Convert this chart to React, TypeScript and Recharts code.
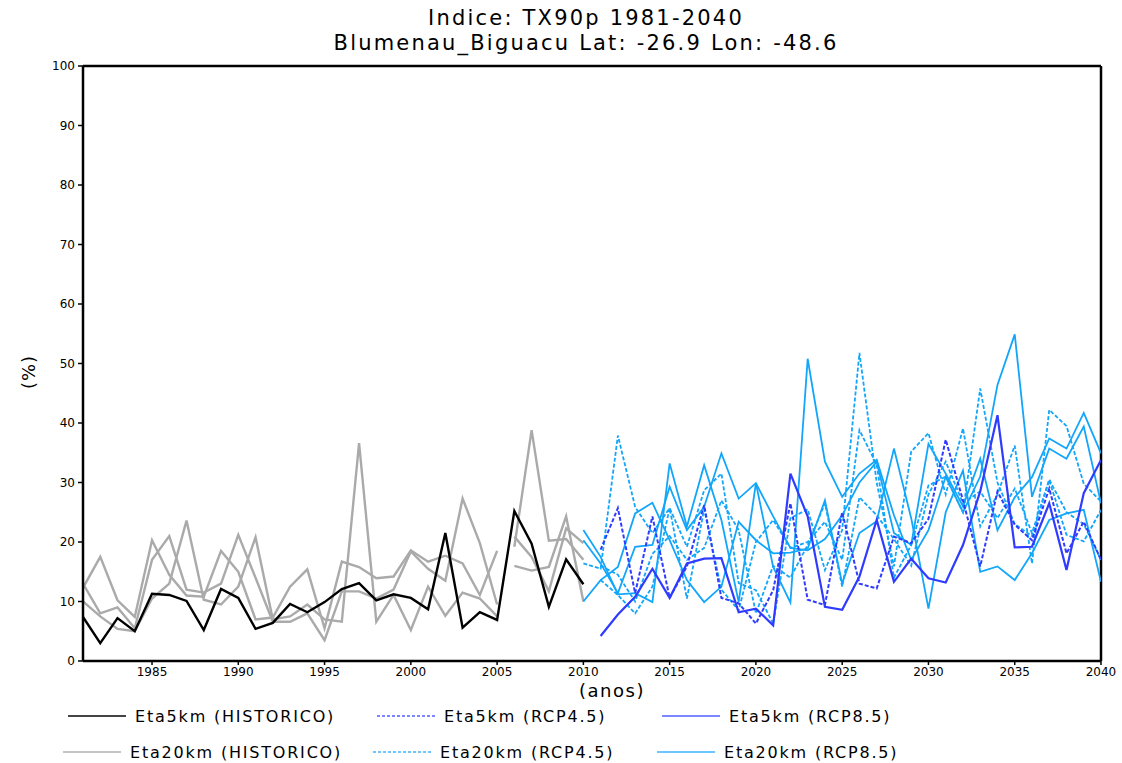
import React from "react";
import { LineChart, Line, XAxis, YAxis, ReferenceLine } from "recharts";

const YEARS = [
  1981, 1982, 1983, 1984, 1985, 1986, 1987, 1988, 1989, 1990,
  1991, 1992, 1993, 1994, 1995, 1996, 1997, 1998, 1999, 2000,
  2001, 2002, 2003, 2004, 2005, 2006, 2007, 2008, 2009, 2010,
  2011, 2012, 2013, 2014, 2015, 2016, 2017, 2018, 2019, 2020,
  2021, 2022, 2023, 2024, 2025, 2026, 2027, 2028, 2029, 2030,
  2031, 2032, 2033, 2034, 2035, 2036, 2037, 2038, 2039, 2040,
];
const X_TICKS = [1985, 1990, 1995, 2000, 2005, 2010, 2015, 2020, 2025, 2030, 2035, 2040];
const Y_TICKS = [0, 10, 20, 30, 40, 50, 60, 70, 80, 90, 100];

// Eta5km historical 1981-2010
const ETA5_HIST = [7.4, 3.0, 7.2, 5.0, 11.3, 11.1, 10.1, 5.2, 12.1, 10.6, 5.4, 6.4, 9.6, 8.2, 9.9, 12.1, 13.1, 10.2, 11.2, 10.6, 8.7, 21.5, 5.6, 8.2, 6.9, 25.2, 19.7, 9.1, 17.1, 12.9];
// Eta20km historical members 1981-2005
const ETA20_HIST_A = [12.3, 17.5, 10.2, 7.4, 20.3, 14.5, 11.0, 10.8, 18.5, 15.0, 7.0, 7.3, 12.5, 15.4, 5.5, 16.7, 15.8, 13.9, 14.2, 18.6, 16.7, 17.7, 16.4, 11.1, 18.5];
const ETA20_HIST_B = [13.0, 8.0, 9.0, 5.5, 17.0, 21.0, 12.0, 11.5, 13.0, 21.2, 14.0, 6.6, 6.6, 8.0, 3.5, 11.7, 11.7, 10.5, 12.0, 18.4, 15.5, 13.5, 27.3, 19.8, 9.5];
const ETA20_HIST_C = [10.0, 7.5, 5.4, 5.0, 10.5, 13.0, 23.6, 10.3, 9.5, 12.5, 20.8, 7.0, 7.5, 9.5, 7.0, 6.6, 36.6, 6.6, 11.1, 5.2, 12.5, 7.6, 11.5, 10.5, 7.5];
// Eta20km historical members 2006-2010
const ETA20_HIST_D = [16.0, 15.2, 15.8, 24.3, 10.0];
const ETA20_HIST_E = [19.2, 38.8, 20.2, 20.5, 17.0];
const ETA20_HIST_F = [20.9, 17.5, 11.7, 22.3, 19.8];
// Eta5km projections 2011-2040
const ETA5_RCP45 = [18.7, 25.7, 11.4, 24.3, 10.6, 15.9, 26.2, 10.6, 9.7, 6.3, 11.9, 26.5, 10.3, 9.4, 25.0, 13.0, 12.2, 20.9, 19.8, 23.9, 37.2, 27.0, 15.9, 28.5, 22.9, 20.3, 29.0, 18.1, 23.4, 17.0];
const ETA5_RCP85 = [4.2, 7.8, 10.8, 15.5, 10.6, 16.4, 17.2, 17.3, 8.2, 8.8, 6.0, 31.5, 24.3, 9.1, 8.6, 14.2, 23.7, 13.3, 17.2, 13.9, 13.2, 19.5, 28.5, 41.3, 19.1, 19.2, 26.5, 15.3, 28.2, 33.8];
// Eta20km RCP4.5 members
const ETA20_RCP45_A = [16.4, 15.5, 37.9, 25.9, 21.5, 25.7, 19.2, 28.7, 31.5, 13.1, 11.9, 6.3, 24.0, 25.5, 15.3, 22.0, 51.8, 30.0, 15.9, 35.2, 38.3, 28.0, 39.1, 22.6, 28.0, 36.2, 16.4, 42.2, 39.5, 29.8, 26.8]; // 2010-2040
const ETA20_RCP45_B = [13.6, 11.1, 8.0, 12.5, 25.7, 10.5, 25.5, 12.0, 8.5, 20.0, 23.7, 19.0, 20.0, 23.4, 17.0, 38.8, 33.0, 14.0, 19.5, 29.5, 31.0, 25.0, 45.8, 30.0, 23.0, 21.0, 30.4, 21.2, 20.1, 25.4]; // 2011-2040
const ETA20_RCP45_C = [16.0, 14.5, 10.0, 18.0, 21.0, 17.0, 19.0, 27.0, 22.0, 8.0, 16.0, 14.0, 19.5, 26.5, 12.5, 27.5, 24.5, 20.5, 16.0, 28.0, 33.5, 26.5, 28.5, 24.0, 29.0, 21.5, 30.5, 25.0, 23.0, 17.0]; // 2011-2040
// Eta20km RCP8.5 members 2010-2040
const ETA20_RCP85_A = [22.0, 17.5, 11.2, 11.4, 9.9, 33.2, 22.6, 32.9, 23.7, 9.9, 29.9, 15.8, 9.8, 50.8, 33.5, 27.6, 31.5, 33.8, 24.5, 17.0, 22.0, 31.0, 25.0, 31.0, 46.4, 54.9, 27.6, 35.7, 34.0, 39.4, 26.5];
const ETA20_RCP85_B = [10.0, 13.6, 15.8, 24.8, 26.6, 20.3, 13.6, 9.9, 12.5, 23.4, 20.3, 18.1, 18.2, 18.9, 27.0, 13.0, 21.5, 23.5, 35.7, 24.0, 8.8, 25.0, 32.0, 15.0, 15.9, 13.6, 18.1, 23.7, 24.8, 25.4, 13.3];
const ETA20_RCP85_C = [20.3, 16.4, 11.4, 19.2, 19.5, 29.3, 22.0, 25.9, 34.9, 27.3, 29.9, 24.3, 19.0, 18.6, 20.5, 24.5, 30.0, 33.5, 21.5, 19.5, 36.5, 31.5, 26.0, 34.0, 22.0, 27.5, 30.9, 37.4, 35.7, 41.7, 34.9];

const BLACK = "#000000";
const GRAY = "#aaaaaa";
const DARK_BLUE = "#2f3bff";
const LIGHT_BLUE = "#12a6fb";

const at = (arr: number[], start: number, year: number) => {
  const i = year - start;
  return i >= 0 && i < arr.length ? arr[i] : null;
};

const data = YEARS.map((year) => ({
  year,
  e5h: at(ETA5_HIST, 1981, year),
  ha: at(ETA20_HIST_A, 1981, year),
  hb: at(ETA20_HIST_B, 1981, year),
  hc: at(ETA20_HIST_C, 1981, year),
  hd: at(ETA20_HIST_D, 2006, year),
  he: at(ETA20_HIST_E, 2006, year),
  hf: at(ETA20_HIST_F, 2006, year),
  e545: at(ETA5_RCP45, 2011, year),
  e585: at(ETA5_RCP85, 2011, year),
  d1: at(ETA20_RCP45_A, 2010, year),
  d2: at(ETA20_RCP45_B, 2011, year),
  d3: at(ETA20_RCP45_C, 2011, year),
  s1: at(ETA20_RCP85_A, 2010, year),
  s2: at(ETA20_RCP85_B, 2010, year),
  s3: at(ETA20_RCP85_C, 2010, year),
}));

const FONT = "'DejaVu Sans', 'Liberation Sans', sans-serif";

const LEGEND = [
  { label: "Eta5km (HISTORICO)", color: "#444444", dash: undefined as string | undefined, x: 68, y: 716 },
  { label: "Eta5km (RCP4.5)", color: "#7d86ff", dash: "3 2", x: 377, y: 716 },
  { label: "Eta5km (RCP8.5)", color: "#7d86ff", dash: undefined, x: 662, y: 716 },
  { label: "Eta20km (HISTORICO)", color: "#c4c4c4", dash: undefined, x: 63, y: 752 },
  { label: "Eta20km (RCP4.5)", color: "#6cc6ff", dash: "3 2", x: 373, y: 752 },
  { label: "Eta20km (RCP8.5)", color: "#6cc6ff", dash: undefined, x: 657, y: 752 },
];

const lineProps = {
  type: "linear" as const,
  dot: false,
  activeDot: false,
  isAnimationActive: false,
  connectNulls: false,
};

export default function App() {
  return (
    <div style={{ position: "absolute", left: 0, top: 0, width: 1122, height: 763, background: "#fff", fontFamily: FONT }}>
      <div style={{ position: "absolute", left: 0, width: 1172, top: 6, textAlign: "center", fontSize: 21, letterSpacing: 2.2, lineHeight: "25px", color: "#000" }}>
        Indice: TX90p 1981-2040
      </div>
      <div style={{ position: "absolute", left: 0, width: 1172, top: 31, textAlign: "center", fontSize: 21, letterSpacing: 2.2, lineHeight: "25px", color: "#000" }}>
        Blumenau_Biguacu Lat: -26.9 Lon: -48.6
      </div>
      <LineChart width={1122} height={763} data={data} margin={{ top: 66, right: 21, bottom: 72, left: 43 }}>
        <XAxis
          dataKey="year"
          type="number"
          domain={[1981, 2040]}
          ticks={X_TICKS}
          allowDataOverflow
          tick={{ fill: "#000", fontSize: 12, fontFamily: FONT }}
          tickLine={{ stroke: "#000", strokeWidth: 1.5 }}
          tickSize={4}
          tickMargin={2}
          axisLine={{ stroke: "#000", strokeWidth: 2.5 }}
          height={30}
        />
        <YAxis
          domain={[0, 100]}
          ticks={Y_TICKS}
          allowDataOverflow
          tick={{ fill: "#000", fontSize: 12, fontFamily: FONT }}
          tickLine={{ stroke: "#000", strokeWidth: 1.5 }}
          tickSize={5}
          tickMargin={3}
          axisLine={{ stroke: "#000", strokeWidth: 2.5 }}
          width={40}
        />
        <ReferenceLine y={100} stroke="#000" strokeWidth={2.5} ifOverflow="extendDomain" />
        <ReferenceLine x={2040} stroke="#000" strokeWidth={2.5} ifOverflow="extendDomain" />

        <Line {...lineProps} dataKey="ha" stroke={GRAY} strokeWidth={2.4} />
        <Line {...lineProps} dataKey="hb" stroke={GRAY} strokeWidth={2.4} />
        <Line {...lineProps} dataKey="hc" stroke={GRAY} strokeWidth={2.4} />
        <Line {...lineProps} dataKey="hd" stroke={GRAY} strokeWidth={2.4} />
        <Line {...lineProps} dataKey="he" stroke={GRAY} strokeWidth={2.4} />
        <Line {...lineProps} dataKey="hf" stroke={GRAY} strokeWidth={2.4} />
        <Line {...lineProps} dataKey="e5h" stroke={BLACK} strokeWidth={2.4} />

        <Line {...lineProps} dataKey="d1" stroke={LIGHT_BLUE} strokeWidth={1.8} strokeDasharray="4 2" />
        <Line {...lineProps} dataKey="d2" stroke={LIGHT_BLUE} strokeWidth={1.8} strokeDasharray="4 2" />
        <Line {...lineProps} dataKey="d3" stroke={LIGHT_BLUE} strokeWidth={1.8} strokeDasharray="4 2" />
        <Line {...lineProps} dataKey="s1" stroke={LIGHT_BLUE} strokeWidth={1.8} />
        <Line {...lineProps} dataKey="s2" stroke={LIGHT_BLUE} strokeWidth={1.8} />
        <Line {...lineProps} dataKey="s3" stroke={LIGHT_BLUE} strokeWidth={1.8} />
        <Line {...lineProps} dataKey="e545" stroke={DARK_BLUE} strokeWidth={2} strokeDasharray="4 2" />
        <Line {...lineProps} dataKey="e585" stroke={DARK_BLUE} strokeWidth={2.2} />
      </LineChart>

      <div style={{ position: "absolute", left: 28, top: 372, transform: "translate(-50%, -50%) rotate(-90deg)", fontSize: 18, letterSpacing: 1, color: "#000", whiteSpace: "nowrap" }}>
        (%)
      </div>
      <div style={{ position: "absolute", left: 0, width: 1224, top: 680, textAlign: "center", fontSize: 18, letterSpacing: 1.5, lineHeight: "22px", color: "#000" }}>
        (anos)
      </div>

      {LEGEND.map((item) => (
        <div key={item.label} style={{ position: "absolute", left: item.x, top: item.y - 11, height: 22, display: "flex", alignItems: "center", whiteSpace: "nowrap" }}>
          <svg width={58} height={6} style={{ display: "block" }}>
            <line x1={0} y1={3} x2={58} y2={3} stroke={item.color} strokeWidth={2} strokeDasharray={item.dash} />
          </svg>
          <span style={{ marginLeft: 9, fontSize: 16, letterSpacing: 1.8, color: "#000" }}>{item.label}</span>
        </div>
      ))}
    </div>
  );
}
